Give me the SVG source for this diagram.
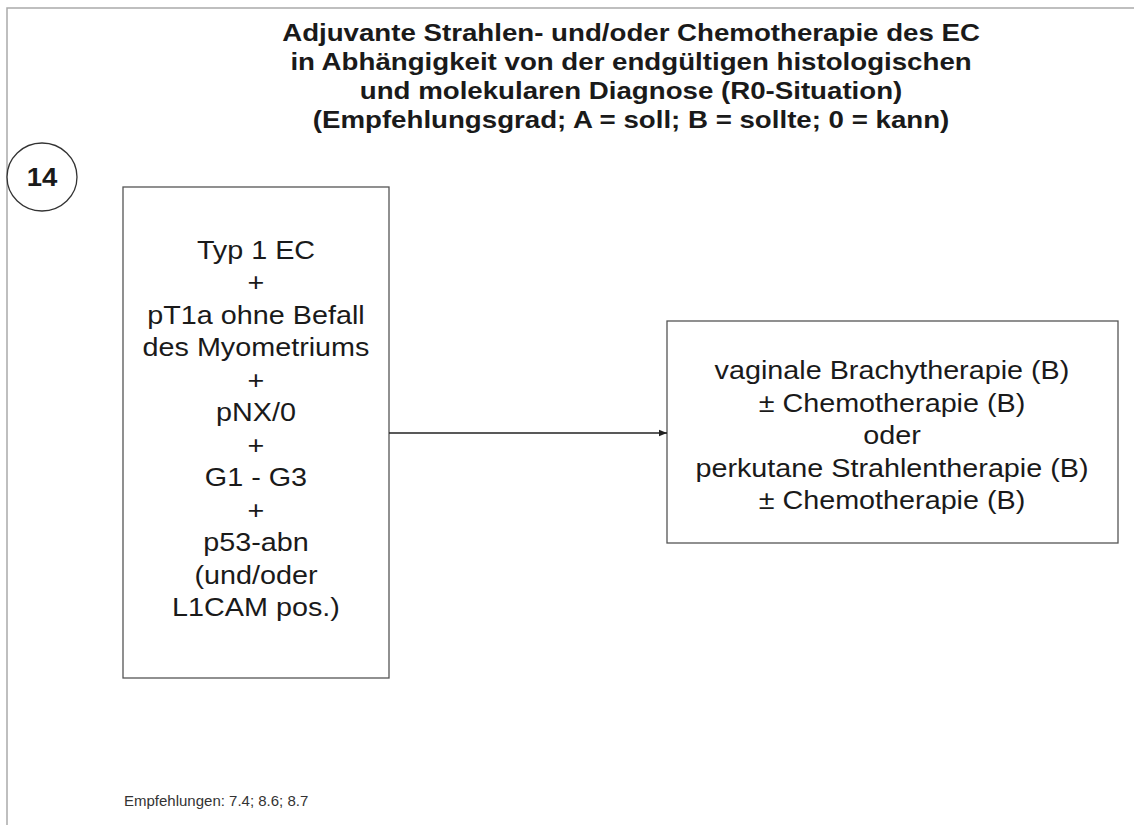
<svg xmlns="http://www.w3.org/2000/svg" width="1134" height="825" viewBox="0 0 1134 825">
<defs>
<style>
.t{font-family:"Liberation Sans",Arial,sans-serif;fill:#1a1a1a;text-anchor:middle}
.title{font-size:24px;font-weight:bold}
.body{font-size:25px}
.box{fill:#fff;stroke:#555;stroke-width:1.3}
</style>
<marker id="arr" viewBox="0 0 10 10" refX="10" refY="5" markerWidth="8" markerHeight="8" markerUnits="userSpaceOnUse" orient="auto">
<path d="M0,1 L10,5 L0,9 Z" fill="#222"/>
</marker>
</defs>
<rect width="1134" height="825" fill="#fff"/>
<path d="M7,825 V8 H1134" fill="none" stroke="#aaa" stroke-width="1.5"/>
<g id="title" class="t title" transform="matrix(1.153 0 0 1 -96.5 0)">
<text x="631" y="41">Adjuvante Strahlen- und/oder Chemotherapie des EC</text>
<text x="631" y="70">in Abhängigkeit von der endgültigen histologischen</text>
<text x="631" y="99">und molekularen Diagnose (R0-Situation)</text>
<text x="631" y="128">(Empfehlungsgrad; A = soll; B = sollte; 0 = kann)</text>
</g>
<g id="badge">
<ellipse cx="42" cy="177" rx="35" ry="34" fill="#fff" stroke="#333" stroke-width="1.3"/>
<text x="42" y="186" class="t" font-size="25" font-weight="bold" transform="matrix(1.1 0 0 1 -4.2 0)">14</text>
</g>
<g id="left">
<rect class="box" x="123" y="187" width="266" height="491"/>
<g class="t body" transform="matrix(1.15 0 0 1 -38.4 0)">
<text x="256" y="259">Typ 1 EC</text>
<text x="256" y="291">+</text>
<text x="256" y="324">pT1a ohne Befall</text>
<text x="256" y="356">des Myometriums</text>
<text x="256" y="389">+</text>
<text x="256" y="421">pNX/0</text>
<text x="256" y="454">+</text>
<text x="256" y="486">G1 - G3</text>
<text x="256" y="519">+</text>
<text x="256" y="551">p53-abn</text>
<text x="256" y="584">(und/oder</text>
<text x="256" y="616">L1CAM pos.)</text>
</g>
</g>
<g id="right">
<rect class="box" x="667" y="321" width="451" height="222"/>
<g class="t body" transform="matrix(1.15 0 0 1 -133.8 0)">
<text x="892" y="379">vaginale Brachytherapie (B)</text>
<text x="892" y="412">± Chemotherapie (B)</text>
<text x="892" y="444">oder</text>
<text x="892" y="477">perkutane Strahlentherapie (B)</text>
<text x="892" y="509">± Chemotherapie (B)</text>
</g>
</g>
<g id="connectors">
<line x1="389" y1="433" x2="667" y2="433" stroke="#222" stroke-width="1.3" marker-end="url(#arr)"/>
</g>
<text x="124" y="806" font-family="Liberation Sans,Arial,sans-serif" font-size="15" fill="#333">Empfehlungen: 7.4; 8.6; 8.7</text>
</svg>
